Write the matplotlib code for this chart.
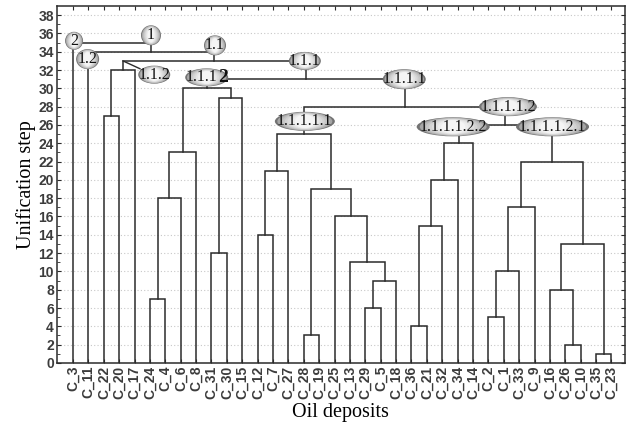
import matplotlib.pyplot as plt
import numpy as np
from matplotlib.patches import Ellipse
from matplotlib import transforms

leaves = ['C_3', 'C_11', 'C_22', 'C_20', 'C_17', 'C_24', 'C_4', 'C_6', 'C_8',
          'C_31', 'C_30', 'C_15', 'C_12', 'C_7', 'C_27', 'C_28', 'C_19', 'C_25',
          'C_13', 'C_29', 'C_5', 'C_18', 'C_36', 'C_21', 'C_32', 'C_34', 'C_14',
          'C_2', 'C_1', 'C_33', 'C_9', 'C_16', 'C_26', 'C_10', 'C_35', 'C_23']

# merge k creates cluster 'm<k>'
merge_a = ['C_35', 'C_26', 'C_28', 'C_36', 'C_2', 'C_29', 'C_24', 'C_16', 'm5',
           'm4', 'C_13', 'C_31', 'm7', 'C_12', 'm3', 'C_25', 'm9', 'm6', 'm2',
           'm14', 'm13', 'm16', 'm17', 'm19', 'm20', 'm23', 'C_22', 'm24', 'm11',
           'm22', 'm29', 'm26', 'm31', 'C_11', 'C_3']
merge_b = ['C_23', 'C_10', 'C_19', 'C_21', 'C_1', 'C_5', 'C_4', 'm1', 'C_18',
           'C_33', 'm8', 'C_30', 'm0', 'C_7', 'C_32', 'm10', 'C_9', 'C_6', 'm15',
           'C_34', 'C_27', 'm12', 'C_8', 'C_14', 'm18', 'm21', 'C_20', 'm25',
           'C_15', 'm28', 'm27', 'C_17', 'm30', 'm32', 'm33']
merge_h = [1, 2, 3, 4, 5, 6, 7, 8, 9, 10, 11, 12, 13, 14, 15, 16, 17, 18, 19,
           20, 21, 22, 23, 24, 25, 26, 27, 28, 29, 30, 31, 32, 33, 34, 35]

node_labels = ['2', '1', '1.1', '1.2', '1.1.2', '1.1.12', '1.1.1', '1.1.1.1',
               '1.1.1.1.1', '1.1.1.1.2', '1.1.1.1.2.2', '1.1.1.1.2.1']
label_x = [0.07, 5.07, 9.23, 0.95, 5.28, 8.69, 15.07, 21.53, 15.07, 28.27, 24.71, 31.17]
label_y = [35.2, 35.8, 34.7, 33.2, 31.5, 31.2, 33.0, 31.0, 26.4, 28.0, 25.8, 25.8]
label_w = [18, 20, 22, 23, 32, 43, 32, 43, 60, 58, 73, 73]   # ellipse size, px
label_hh = [18, 20, 20, 20, 18, 18, 18, 20, 19, 19, 19, 19]

line_col = '#2b2b2b'
tick_col = '#3c3c3c'

fig = plt.figure(figsize=(6.32, 4.30), dpi=100)
ax = fig.add_axes([0.0897, 0.156, 0.899, 0.830])
xmin, xmax = -1.06, 35.87
ymin, ymax = 0, 39
ax.set_xlim(xmin, xmax)
ax.set_ylim(ymin, ymax)

pos = {name: (float(i), 0.0) for i, name in enumerate(leaves)}
for k, (a, b, h) in enumerate(zip(merge_a, merge_b, merge_h)):
    xa, ha = pos[a]
    xb, hb = pos[b]
    ax.plot([xa, xa, xb, xb], [ha, h, h, hb], color=line_col, lw=1.1,
            solid_joinstyle='miter', zorder=2)
    pos['m%d' % k] = ((xa + xb) / 2, float(h))

# pointer from cluster 1.1.2 to its label
ax.plot([pos['m31'][0], 4.35], [33, 32.15], color=line_col, lw=1.0, zorder=2)

# gradient ellipses
px_x = ax.get_position().width * 632 / (xmax - xmin)
px_y = ax.get_position().height * 430 / (ymax - ymin)
edge = np.array([0.45, 0.45, 0.45])
centre = np.array([0.96, 0.96, 0.96])
for txt, x, y, w, hh in zip(node_labels, label_x, label_y, label_w, label_hh):
    steps = 9
    for s in range(steps):
        f = 1 - s / steps * 0.75
        c = edge + (centre - edge) * (s / (steps - 1)) ** 0.45
        ax.add_patch(Ellipse((x, y), w * f / px_x, hh * (0.55 + 0.45 * f) / px_y,
                             facecolor=c, edgecolor='none', zorder=4))
    if txt == '1.1.12':
        tr_l = transforms.offset_copy(ax.transData, fig=fig, x=8, y=0, units='points')
        ax.text(x, y, '1.1.1', transform=tr_l, ha='right', va='center',
                family='Liberation Serif', fontsize=11.5, color='#111111', zorder=5)
        ax.text(x, y, '2', transform=tr_l, ha='left', va='center',
                family='Liberation Serif', fontsize=14, fontweight='bold',
                color='#111111', zorder=5)
    else:
        ax.text(x, y, txt, ha='center', va='center', family='Liberation Serif',
                fontsize=11.5, color='#111111', zorder=5)

ax.set_yticks(np.arange(0, 39, 2))
ax.set_yticks(np.arange(0, 39, 1), minor=True)
ax.set_xticks(np.arange(len(leaves)))
ax.set_xticklabels(leaves, rotation=90)
ax.grid(axis='y', which='major', linestyle=(0, (1, 2)), color='#c8c8c8', lw=0.8, zorder=0)
ax.tick_params(axis='both', which='both', direction='in', top=True, right=True,
               colors=line_col, labelcolor=tick_col, labelsize=10, pad=2)
ax.tick_params(axis='both', which='major', length=3)
ax.tick_params(axis='both', which='minor', length=2)
for lab in ax.get_xticklabels() + ax.get_yticklabels():
    lab.set_family('Liberation Sans')
    lab.set_fontweight('bold')
for sp in ax.spines.values():
    sp.set_color(line_col)
    sp.set_linewidth(1.1)

ax.set_ylabel('Unification step', family='Liberation Serif', fontsize=14.5, labelpad=2)
ax.set_xlabel('Oil deposits', family='Liberation Serif', fontsize=14.5, labelpad=3)

fig.savefig('out.png', dpi=100)
